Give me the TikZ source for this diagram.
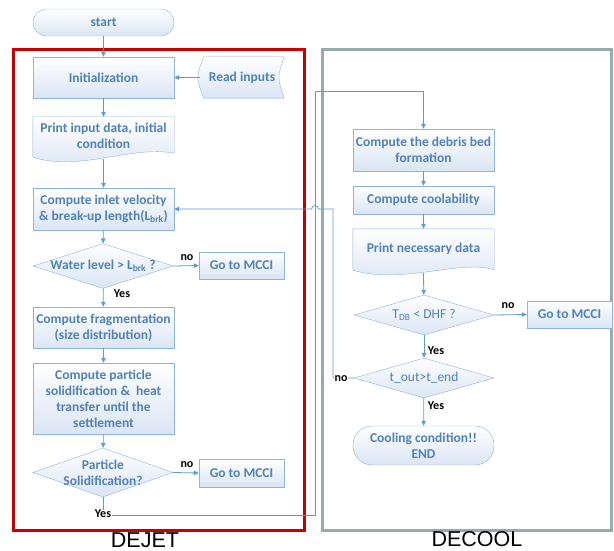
\documentclass[tikz,border=0pt]{standalone}
\usepackage{fontspec}
\setmainfont{Carlito}
\newfontfamily\boxlabelfont{Liberation Sans}
\usepackage{xcolor}
\usepackage{tikz}
\usetikzlibrary{shapes,arrows,positioning,fit,calc,arrows.meta,backgrounds}

\definecolor{flowline}{RGB}{91,155,213}
\definecolor{flowborder}{RGB}{141,180,226}
\definecolor{flowtext}{RGB}{79,129,189}
\definecolor{flowfill}{RGB}{218,229,244}
\definecolor{dejetred}{RGB}{200,0,0}
\definecolor{decoolgray}{RGB}{150,172,172}

\tikzset{
  flow/.style={draw=flowborder, top color=white, bottom color=flowfill,
    text=flowtext, font=\fontsize{13.5}{16}\selectfont\bfseries,
    align=center, inner sep=1pt},
  process/.style={flow, rectangle, minimum width=141pt},
  terminal/.style={process, rounded corners=#1},
  decision/.style={flow, diamond, inner xsep=-32pt, inner ysep=-4pt,
    minimum width=140pt, minimum height=40pt},
  textonly/.style={text=flowtext, font=\fontsize{13.5}{16}\selectfont\bfseries,
    align=center, inner sep=0pt},
  docshade/.style={draw=flowborder, top color=white, bottom color=flowfill},
  link/.style={flowline, line width=0.8pt, -{Triangle[length=5pt,width=4.5pt]}},
  answer/.style={font=\fontsize{12}{14}\selectfont\bfseries, inner sep=0.5pt},
  modbox/.style={line width=3pt},
  modname/.style={font=\boxlabelfont\fontsize{21.5}{23}\selectfont, inner sep=0pt}
}

\begin{document}
\begin{tikzpicture}[x=1pt, y=-1pt]
    \useasboundingbox (0,0) rectangle (614,551);
    % DEJET and DECOOL boxes
    \draw[modbox, dejetred] (13.5,49.5) rectangle (304.5,530.5);
    \draw[modbox, decoolgray] (322.5,49.5) rectangle (611.5,530.5);
    \node[modname] (dejetname) at (145,540.5) {DEJET};
    \node[modname] (decoolname) at (477,539.5) {DECOOL};

    % DEJET part
    \node[terminal=13.5pt, minimum height=27pt] (start) at (103.5,22.5) {start};
    \node[process, minimum height=41pt] (init) at (103.5,77.5) {Initialization};
    \node[textonly, minimum width=84pt, minimum height=41pt] (readin) at (242,77.5) {Read inputs};
    \node[textonly, minimum width=141pt, minimum height=38pt] (print) at (103.5,136) {Print input data, initial\\condition};
    \node[process, minimum height=42pt] (inlet) at (103.5,209) {Compute inlet velocity\\\& break-up length(L\textsubscript{brk})};
    \node[decision] (water) at (103,266) {Water level {>} L\textsubscript{brk} ?};
    \node[process, minimum width=85pt, minimum height=27pt] (mcciA) at (241.5,265.5) {Go to MCCI};
    \node[process, minimum height=41pt] (frag) at (103.5,327.5) {Compute fragmentation\\(size distribution)};
    \node[process, minimum height=71pt] (particle) at (103.5,398.5) {Compute particle\\solidification \&\ \ heat\\transfer until the\\settlement};
    \node[decision, minimum height=49pt] (solid) at (103,472.5) {Particle\\Solidification?};
    \node[process, minimum width=85pt, minimum height=28pt] (mcciB) at (241.5,473) {Go to MCCI};

    % DECOOL part
    \node[process, minimum height=42pt] (debris) at (423.5,150) {Compute the debris bed\\formation};
    \node[process, minimum height=28pt] (cool) at (423.5,200) {Compute coolability};
    \node[textonly, minimum width=141pt, minimum height=39pt] (printnd) at (423.5,248.5) {Print necessary data};
    \node[decision, font=\fontsize{13.5}{16}\selectfont] (tdb) at (424,315) {T\textsubscript{DB} {<} DHF ?};
    \node[process, minimum width=85pt, minimum height=27pt] (mcciC) at (569.5,314.5) {Go to MCCI};
    \node[decision, font=\fontsize{13.5}{16}\selectfont] (tout) at (424,378) {t\_out{>}t\_end};
    \node[terminal=19pt, minimum height=39pt] (finish) at (423.5,445.5) {Cooling condition!!\\END};

    % stored data and document outlines
    \begin{pgfonlayer}{background}
    \shade[docshade] (readin.north east) .. controls ([xshift=-7pt]readin.east) .. (readin.south east)
        -- ([xshift=4pt]readin.south west) .. controls ([xshift=-4pt]readin.west) .. ([xshift=4pt]readin.north west) -- cycle;
    \shade[docshade] (print.north west) -- (print.north east) -- ([yshift=2pt]print.south east)
        .. controls ([xshift=-44pt,yshift=10pt]print.south east) and ([xshift=47pt,yshift=-17pt]print.south west)
        .. ([yshift=-2pt]print.south west) -- cycle;
    \shade[docshade] (printnd.north west) -- (printnd.north east) -- ([yshift=-2pt]printnd.south east)
        .. controls ([xshift=-30pt,yshift=10pt]printnd.south east) and ([xshift=50pt,yshift=-17pt]printnd.south west)
        .. ([yshift=-2pt]printnd.south west) -- cycle;
    \end{pgfonlayer}

    % connections
    \coordinate (downA) at (103,515);
    \coordinate (upA) at (315,515);
    \coordinate (upB) at (315,91);
    \coordinate (backA) at (333,378);
    \coordinate (backB) at (333,209);
    \coordinate (hopR) at (318.5,209);
    \coordinate (hopL) at (311.5,209);

    \draw[link] (start) -- (init);
    \draw[link] (readin.west) -- (init.east);
    \draw[link] (init) -- (print);
    \draw[link] ([yshift=-4pt]print.south) -- (inlet);
    \draw[link] (inlet) -- (water);
    \draw[link] (water.east) -- (mcciA.west);
    \draw[link] (water) -- (frag);
    \draw[link] (frag) -- (particle);
    \draw[link] (particle) -- (solid);
    \draw[link] (solid.east) -- (mcciB.west);
    \draw[link] (solid.south) -- (downA) -- (upA) -- (upB) -| (debris.north);
    \draw[link] (debris) -- (cool);
    \draw[link] (cool) -- (printnd);
    \draw[link] ([yshift=-5pt]printnd.south) -- (tdb);
    \draw[link] (tdb.east) -- (mcciC.west);
    \draw[link] (tdb) -- (tout);
    \draw[link] (tout) -- (finish);
    \draw[link] (tout.west) -- (backA) -- (backB) -- (hopR)
        .. controls ([yshift=4.5pt]hopR) and ([yshift=4.5pt]hopL) .. (hopL) -- (inlet.east);

    % answers
    \node[answer] (noA) at (187,258) {no};
    \node[answer] (yesA) at (122,294) {Yes};
    \node[answer] (noB) at (187,465) {no};
    \node[answer, fill=white] (yesB) at (103,514) {Yes};
    \node[answer] (noC) at (508,306) {no};
    \node[answer] (yesC) at (436,351) {Yes};
    \node[answer, fill=white] (noD) at (341,379) {no};
    \node[answer] (yesD) at (436,406) {Yes};
\end{tikzpicture}
\end{document}
